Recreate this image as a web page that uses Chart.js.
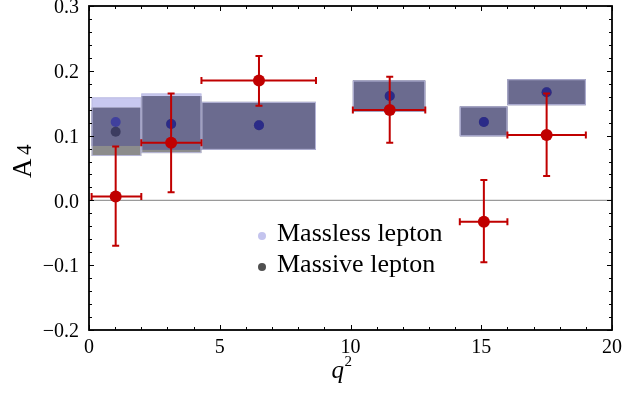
<!DOCTYPE html>
<html>
<head>
<meta charset="utf-8">
<script src="https://cdn.jsdelivr.net/npm/chart.js@4/dist/chart.umd.min.js"></script>
<style>
  html, body { margin: 0; padding: 0; background: #fff; }
  #chart { display: block; }
</style>
</head>
<body>
<canvas id="chart" width="624" height="407"></canvas>
<script>
// q^2 bins
const binLo = [0.1, 2.0, 4.3, 10.09, 14.18, 16.0];
const binHi = [2.0, 4.3, 8.68, 12.86, 16.0, 19.0];
const binCenter = [1.02, 3.14, 6.5, 11.5, 15.1, 17.5];

// theory, massless lepton
const masslessMean = [0.121, 0.118, 0.116, 0.161, 0.121, 0.167];
const masslessLo = [0.084, 0.078, 0.078, 0.137, 0.099, 0.147];
const masslessHi = [0.159, 0.165, 0.152, 0.185, 0.145, 0.187];

// theory, massive lepton
const massiveMean = [0.106, 0.118, 0.116, 0.161, 0.121, 0.167];
const massiveLo = [0.0685, 0.073, 0.078, 0.137, 0.099, 0.147];
const massiveHi = [0.143, 0.161, 0.152, 0.185, 0.145, 0.187];

// measurements
const dataX = [1.02, 3.14, 6.5, 11.5, 15.1, 17.5];
const dataY = [0.006, 0.089, 0.185, 0.1395, -0.033, 0.101];
const dataYHi = [0.083, 0.165, 0.223, 0.191, 0.0315, 0.165];
const dataYLo = [-0.070, 0.0125, 0.146, 0.089, -0.0955, 0.0376];

const legendLabels = ['Massless lepton', 'Massive lepton'];

const SERIF = '"Liberation Serif", "DejaVu Serif", serif';
const RED = '#c00000';

const pts = (xs, ys) => xs.map((x, i) => ({ x: x, y: ys[i] }));

// boxes behind the points
const boxPlugin = {
  id: 'boxes',
  beforeDatasetsDraw(chart) {
    const { ctx, scales: { x, y }, chartArea } = chart;
    ctx.save();
    // zero line
    ctx.strokeStyle = '#9a9a9a';
    ctx.lineWidth = 1.2;
    ctx.beginPath();
    ctx.moveTo(chartArea.left, y.getPixelForValue(0));
    ctx.lineTo(chartArea.right, y.getPixelForValue(0));
    ctx.stroke();

    binLo.forEach((lo, i) => {
      const x0 = x.getPixelForValue(lo);
      const x1 = x.getPixelForValue(binHi[i]);
      const rect = (a, b, col) => {
        const ya = y.getPixelForValue(b);
        const yb = y.getPixelForValue(a);
        ctx.fillStyle = col;
        ctx.fillRect(x0, ya, x1 - x0, yb - ya);
      };
      rect(masslessLo[i], masslessHi[i], '#c8c8f0');
      rect(massiveLo[i], massiveHi[i], '#8c8c8c');
      const oLo = Math.max(masslessLo[i], massiveLo[i]);
      const oHi = Math.min(masslessHi[i], massiveHi[i]);
      if (oHi > oLo) rect(oLo, oHi, '#6b6b8f');
      // faint edge
      const top = y.getPixelForValue(Math.max(masslessHi[i], massiveHi[i]));
      const bot = y.getPixelForValue(Math.min(masslessLo[i], massiveLo[i]));
      ctx.strokeStyle = 'rgba(190,190,225,0.9)';
      ctx.lineWidth = 1;
      ctx.strokeRect(x0 + 0.5, top + 0.5, x1 - x0 - 1, bot - top - 1);
    });
    ctx.restore();
  },
  beforeDatasetDraw(chart, args) {
    if (args.index !== 2) return;
    const { ctx, scales: { x, y } } = chart;
    ctx.save();
    ctx.strokeStyle = RED;
    ctx.lineWidth = 2;
    const cap = 3.5;
    dataX.forEach((q, i) => {
      const px = x.getPixelForValue(q);
      const py = y.getPixelForValue(dataY[i]);
      const xl = x.getPixelForValue(binLo[i]);
      const xr = x.getPixelForValue(binHi[i]);
      const yt = y.getPixelForValue(dataYHi[i]);
      const yb = y.getPixelForValue(dataYLo[i]);
      ctx.beginPath();
      ctx.moveTo(xl, py); ctx.lineTo(xr, py);
      ctx.moveTo(xl, py - cap); ctx.lineTo(xl, py + cap);
      ctx.moveTo(xr, py - cap); ctx.lineTo(xr, py + cap);
      ctx.moveTo(px, yt); ctx.lineTo(px, yb);
      ctx.moveTo(px - cap, yt); ctx.lineTo(px + cap, yt);
      ctx.moveTo(px - cap, yb); ctx.lineTo(px + cap, yb);
      ctx.stroke();
    });
    ctx.restore();
  }
};

// frame, inward ticks, legend and axis titles
const framePlugin = {
  id: 'frame',
  afterDatasetsDraw(chart) {
    const { ctx, scales: { x, y }, chartArea: a } = chart;
    ctx.save();
    ctx.strokeStyle = '#000';
    ctx.lineWidth = 1;
    ctx.beginPath();
    for (let q = 0; q <= 20; q++) {
      const px = Math.round(x.getPixelForValue(q)) + 0.5;
      const len = q % 5 === 0 ? 5 : 3;
      ctx.moveTo(px, a.bottom); ctx.lineTo(px, a.bottom - len);
      ctx.moveTo(px, a.top); ctx.lineTo(px, a.top + len);
    }
    for (let k = -10; k <= 15; k++) {
      const py = Math.round(y.getPixelForValue(k * 0.02)) + 0.5;
      const len = k % 5 === 0 ? 5 : 3;
      ctx.moveTo(a.left, py); ctx.lineTo(a.left + len, py);
      ctx.moveTo(a.right, py); ctx.lineTo(a.right - len, py);
    }
    ctx.stroke();
    ctx.lineWidth = 1.8;
    ctx.strokeRect(a.left, a.top, a.right - a.left, a.bottom - a.top);

    // legend
    const lx = a.left + 173;
    const ly = [a.top + 230, a.top + 261];
    const lcol = ['#c4c4ee', '#505050'];
    ctx.font = '26px ' + SERIF;
    ctx.textBaseline = 'alphabetic';
    ctx.textAlign = 'left';
    legendLabels.forEach((t, i) => {
      ctx.fillStyle = lcol[i];
      ctx.beginPath();
      ctx.arc(lx, ly[i], 4, 0, Math.PI * 2);
      ctx.fill();
      ctx.fillStyle = '#000';
      ctx.fillText(t, lx + 15, ly[i] + 5);
    });

    // x title q^2
    const cx = (a.left + a.right) / 2;
    ctx.font = 'italic 25px ' + SERIF;
    ctx.fillText('q', cx - 19, 378);
    ctx.font = '15px ' + SERIF;
    ctx.fillText('2', cx - 6, 366);

    // y title A 4
    ctx.translate(31, (a.top + a.bottom) / 2 - 8);
    ctx.rotate(-Math.PI / 2);
    ctx.font = '27px ' + SERIF;
    ctx.textAlign = 'left';
    ctx.fillText('A', -18, 0);
    ctx.font = '21px ' + SERIF;
    ctx.fillText('4', 5, 0);
    ctx.restore();
  }
};

new Chart(document.getElementById('chart').getContext('2d'), {
  type: 'scatter',
  data: {
    datasets: [
      {
        label: 'Massive lepton',
        data: pts(binCenter, massiveMean),
        backgroundColor: '#3c3c60',
        borderWidth: 0,
        pointRadius: 5,
        order: 2,
      },
      {
        label: 'Massless lepton',
        data: pts(binCenter, masslessMean),
        backgroundColor: 'rgba(30,30,170,0.55)',
        borderWidth: 0,
        pointRadius: 5,
        order: 1,
      },
      {
        label: 'Data',
        data: pts(dataX, dataY),
        backgroundColor: RED,
        borderWidth: 0,
        pointRadius: 6,
        order: 0,
      },
    ],
  },
  options: {
    responsive: false,
    animation: false,
    layout: { padding: { left: 0, right: 12, top: 6, bottom: 0 } },
    plugins: {
      legend: { display: false },
      tooltip: { enabled: false },
    },
    scales: {
      x: {
        type: 'linear',
        min: 0,
        max: 20,
        grid: { display: false },
        border: { display: false },
        afterFit: (s) => { s.height = 77; s.paddingLeft = 0; s.paddingRight = 0; },
        ticks: {
          stepSize: 5,
          padding: -2,
          color: '#000',
          font: { family: SERIF, size: 20 },
          maxRotation: 0,
        },
      },
      y: {
        min: -0.2,
        max: 0.3,
        grid: { display: false },
        border: { display: false },
        afterFit: (s) => { s.width = 89; s.paddingTop = 0; s.paddingBottom = 0; },
        ticks: {
          stepSize: 0.1,
          padding: 2,
          labelOffset: 2,
          color: '#000',
          font: { family: SERIF, size: 20 },
          callback: (v) => (Math.abs(v) < 1e-9 ? '0.0' : v.toFixed(1).replace('-', '\u2212')),
        },
      },
    },
  },
  plugins: [boxPlugin, framePlugin],
});
</script>
</body>
</html>
